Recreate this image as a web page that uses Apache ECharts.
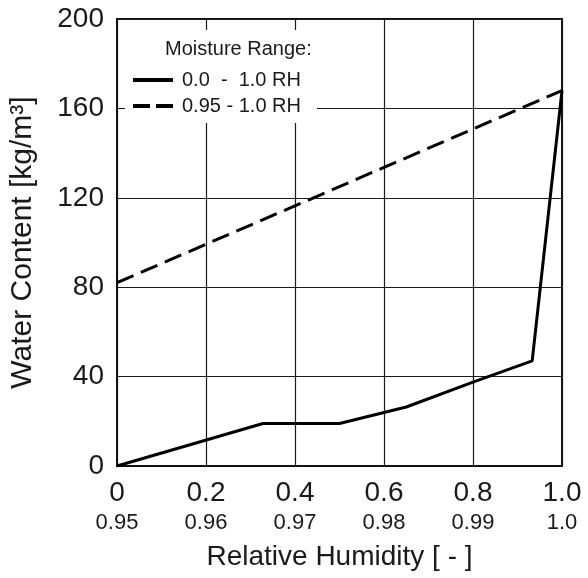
<!DOCTYPE html>
<html>
<head>
<meta charset="utf-8">
<script src="https://cdn.jsdelivr.net/npm/echarts@6/dist/echarts.min.js"></script>
<style>
  html, body { margin: 0; padding: 0; background: #fff; }
  #chart { width: 588px; height: 578px; }
</style>
</head>
<body>
<div id="chart"></div>
<script>
// x axis: relative humidity, two scales (full range / 0.95-1.0 range)
var x_main = ['0', '0.2', '0.4', '0.6', '0.8', '1.0'];
var x_sub = ['0.95', '0.96', '0.97', '0.98', '0.99', '1.0'];

// solid: 0.0 - 1.0 RH
var full_rh = [0, 0.328, 0.5, 0.65, 0.8, 0.933, 1.0];
var full_wc = [0, 19, 19, 26.4, 37.5, 47, 168];

// dashed: 0.95 - 1.0 RH
var high_rh = [0, 1.0];
var high_wc = [82, 168];

var font = 'Liberation Sans, Arial, sans-serif';
var ink = '#1a1a1a';

function pairs(xs, ys) {
  var out = [];
  xs.forEach(function (x, i) { out.push([x, ys[i]]); });
  return out;
}

var chart_div = echarts.init(document.getElementById('chart'));
var option = {
  animation: false,
  textStyle: { fontFamily: font, color: ink },
  title: {
    text: 'Moisture Range:',
    left: 165,
    top: 39,
    padding: 0,
    textStyle: { fontFamily: font, fontSize: 20, fontWeight: 'normal', color: ink }
  },
  legend: {
    orient: 'vertical',
    left: 133,
    top: 70,
    padding: 0,
    itemGap: 6,
    itemWidth: 40,
    itemHeight: 4,
    z: 5,
    data: [
      { name: '0.0  -  1.0 RH', icon: 'path://M0,0H40V4H0Z' },
      { name: '0.95 - 1.0 RH', icon: 'path://M0,0H17V4H0Z M23,0H40V4H23Z' }
    ],
    itemStyle: { color: '#000', borderWidth: 0 },
    lineStyle: { width: 0, opacity: 0 },
    textStyle: { fontFamily: font, fontSize: 20, color: ink, padding: [0, 0, 0, 4] }
  },
  graphic: [{
    type: 'rect',
    z: 1,
    shape: { x: 125, y: 30, width: 192, height: 93 },
    style: { fill: '#fff' }
  }],
  grid: {
    left: 117,
    right: 26,
    top: 19,
    bottom: 112,
    show: true,
    borderColor: '#111',
    borderWidth: 2
  },
  xAxis: {
    type: 'value',
    min: 0,
    max: 1,
    interval: 0.2,
    name: 'Relative Humidity [ - ]',
    nameLocation: 'middle',
    nameGap: 77,
    nameTextStyle: { fontFamily: font, fontSize: 28, color: ink, lineHeight: 28 },
    axisLine: { lineStyle: { color: '#111', width: 2 } },
    axisTick: { show: false },
    splitLine: { lineStyle: { color: '#1a1a1a', width: 1.2 } },
    axisLabel: {
      margin: 12,
      formatter: function (v) {
        var i = Math.round(v / 0.2);
        return '{a|' + x_main[i] + '}\n{b|' + x_sub[i] + '}';
      },
      rich: {
        a: { fontFamily: font, fontSize: 28, lineHeight: 30, color: ink },
        b: { fontFamily: font, fontSize: 22, lineHeight: 30, color: ink }
      }
    }
  },
  yAxis: {
    type: 'value',
    min: 0,
    max: 200,
    interval: 40,
    name: 'Water Content [kg/m³]',
    nameLocation: 'middle',
    nameRotate: 90,
    nameGap: 79,
    nameTextStyle: { fontFamily: font, fontSize: 30, color: ink },
    axisLine: { show: true, lineStyle: { color: '#111', width: 2 } },
    axisTick: { show: false },
    splitLine: { lineStyle: { color: '#1a1a1a', width: 1.2 } },
    axisLabel: { margin: 13, fontFamily: font, fontSize: 28, color: ink }
  },
  series: [
    {
      name: '0.0  -  1.0 RH',
      type: 'line',
      symbol: 'none',
      z: 3,
      lineStyle: { color: '#000', width: 3 },
      itemStyle: { color: '#000' },
      data: pairs(full_rh, full_wc)
    },
    {
      name: '0.95 - 1.0 RH',
      type: 'line',
      symbol: 'none',
      z: 3,
      lineStyle: { color: '#000', width: 3, type: [18, 8] },
      itemStyle: { color: '#000' },
      data: pairs(high_rh, high_wc)
    }
  ]
};
chart_div.setOption(option);
</script>
</body>
</html>
